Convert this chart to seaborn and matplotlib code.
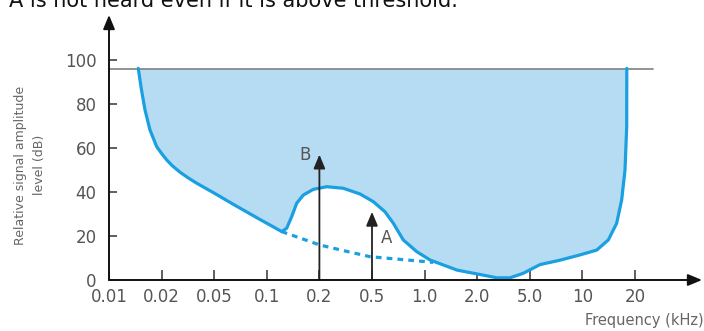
import numpy as np
import matplotlib
matplotlib.use("Agg")
import matplotlib.pyplot as plt
import seaborn as sns

# ---------------- data ----------------
tick_khz = [0.01, 0.02, 0.05, 0.1, 0.2, 0.5, 1.0, 2.0, 5.0, 10, 20]
tick_labels = ["0.01", "0.02", "0.05", "0.1", "0.2", "0.5", "1.0", "2.0", "5.0", "10", "20"]
ytick_vals = [0, 20, 40, 60, 80, 100]

# masked threshold curve (kHz, dB)
curve_khz = [0.01471, 0.0153, 0.01607, 0.01716, 0.01875, 0.02, 0.02192, 0.02402, 0.02756,
             0.03162, 0.03684, 0.05, 0.064, 0.09, 0.1043, 0.1217, 0.1299, 0.1388,
             0.1483, 0.1617, 0.1846, 0.2271, 0.3031, 0.4058, 0.5087, 0.5934, 0.6621,
             0.7552, 0.9013, 1.074, 1.533, 2.10, 2.82, 3.54, 4.44, 5.72, 7.44, 9.68,
             12.08, 14.07, 15.71, 16.78, 17.53, 17.93, 17.95]
curve_db = [96.2, 87, 77.3, 68.2, 60.6, 57.5, 54.5, 52, 49,
            46.5, 44, 39.5, 34.5, 27.8, 25, 22, 23.5, 28.8,
            34.9, 38.6, 41.2, 42.4, 41.7, 39.1, 35.6, 31, 25.8,
            18.2, 12.9, 9.1, 4.5, 2.5, 1, 1, 3, 7, 9, 11.4,
            13.6, 18.2, 25.8, 36.4, 50, 69.7, 96.2]

# unmasked threshold (dotted)
quiet_khz = [0.1217, 0.202, 0.312, 0.483, 1.028, 1.12]
quiet_db = [22, 15.9, 13.2, 10.6, 8.3, 8.0]

ceiling_db = 96
ceiling_end_khz = 27.3

tone_khz = [0.2, 0.5]
tone_db = [57, 31]
tone_names = ["B", "A"]
tone_label_khz = [0.166, 0.603]
tone_label_db = [57, 19]

# ------------- scale: equally spaced ticks -------------
ext_khz = np.array([0.005] + tick_khz + [50, 100])
ext_pos = np.arange(-1, len(tick_khz) + 2)
ext_log = np.log10(ext_khz)


def fwd(f):
    f = np.maximum(np.asarray(f, dtype=float), 1e-9)
    return np.interp(np.log10(f), ext_log, ext_pos)


def inv(p):
    return 10 ** np.interp(np.asarray(p, dtype=float), ext_pos, ext_log)


sns.set_theme(style="white")
plt.rcParams["font.family"] = ["DejaVu Sans"]

W, H = 704, 331
fig = plt.figure(figsize=(W / 100, H / 100), dpi=100)
x0, y0, x1, y1 = 109, 280, 703, 14
ax = fig.add_axes([x0 / W, (H - y0) / H, (x1 - x0) / W, (y0 - y1) / H])
ax.set_xscale("function", functions=(fwd, inv))
px_per_pos = 52.6
px_per_db = 2.2
ax.set_xlim(0.01, float(inv((x1 - x0) / px_per_pos)))
ax.set_ylim(0, (y0 - y1) / px_per_db)
for s in ax.spines.values():
    s.set_visible(False)

fill_c = "#b5dcf3"
line_c = "#1a9fe0"
gray = "#555555"

ax.fill_between(curve_khz, curve_db, ceiling_db, color=fill_c, lw=0, zorder=1)
ax.plot([0.01, ceiling_end_khz], [ceiling_db, ceiling_db], color="#808080", lw=1.2, zorder=2)
sns.lineplot(x=curve_khz, y=curve_db, sort=False, estimator=None, color=line_c,
             lw=2.3, ax=ax, zorder=3)
sns.lineplot(x=quiet_khz, y=quiet_db, sort=False, estimator=None, color=line_c,
             lw=2.3, ax=ax, zorder=3, linestyle=(0, (1.8, 1.6)))

# tones
for f, d, n, lf, ld in zip(tone_khz, tone_db, tone_names, tone_label_khz, tone_label_db):
    ax.annotate("", xy=(f, d), xytext=(f, 0),
                arrowprops=dict(arrowstyle="-|>,head_length=0.6,head_width=0.25",
                                color="#222222", lw=1.3,
                                mutation_scale=14, shrinkA=0, shrinkB=0),
                zorder=5)
    ax.text(lf, ld, n, color=gray, fontsize=12, ha="center", va="center", zorder=6)

# axes arrows
ax_c = "#333333"
ax.annotate("", xy=(0.01, (y0 - 15) / px_per_db), xytext=(0.01, 0),
            arrowprops=dict(arrowstyle="-|>,head_length=0.6,head_width=0.25",
                            color="#111111", lw=1.4,
                            mutation_scale=14, shrinkA=0, shrinkB=0),
            annotation_clip=False, zorder=6)
ax.annotate("", xy=(float(inv((702 - x0) / px_per_pos)), 0), xytext=(0.01, 0),
            arrowprops=dict(arrowstyle="-|>,head_length=0.6,head_width=0.25",
                            color="#111111", lw=1.4,
                            mutation_scale=14, shrinkA=0, shrinkB=0),
            annotation_clip=False, zorder=6)

ax.set_xticks(tick_khz)
ax.set_xticklabels(tick_labels)
ax.xaxis.set_minor_locator(matplotlib.ticker.NullLocator())
ax.set_yticks(ytick_vals)
ax.set_yticklabels([str(v) for v in ytick_vals])
ax.tick_params(axis="x", direction="in", length=7, width=1.1, color=ax_c,
               labelsize=12, labelcolor=gray, pad=6, bottom=True)
ax.tick_params(axis="y", direction="in", length=6, width=1.1, color=ax_c,
               labelsize=12, labelcolor=gray, pad=9, left=True)
ax.set_xlabel("")
ax.set_ylabel("")
ax.grid(False)

fig.text(30 / W, 1 - 165 / H, "Relative signal amplitude\nlevel (dB)", rotation=90,
         ha="center", va="center", multialignment="center", fontsize=9,
         color="#666666", linespacing=1.6)
fig.text(704 / W, 1 - 321 / H, "Frequency (kHz)", ha="right", va="center",
         fontsize=10.5, color="#666666")
fig.text(9 / W, 1 - 7 / H, "A is not heard even if it is above threshold.",
         ha="left", va="baseline", fontsize=15, color="#111111")

fig.savefig("out.png", dpi=100)
